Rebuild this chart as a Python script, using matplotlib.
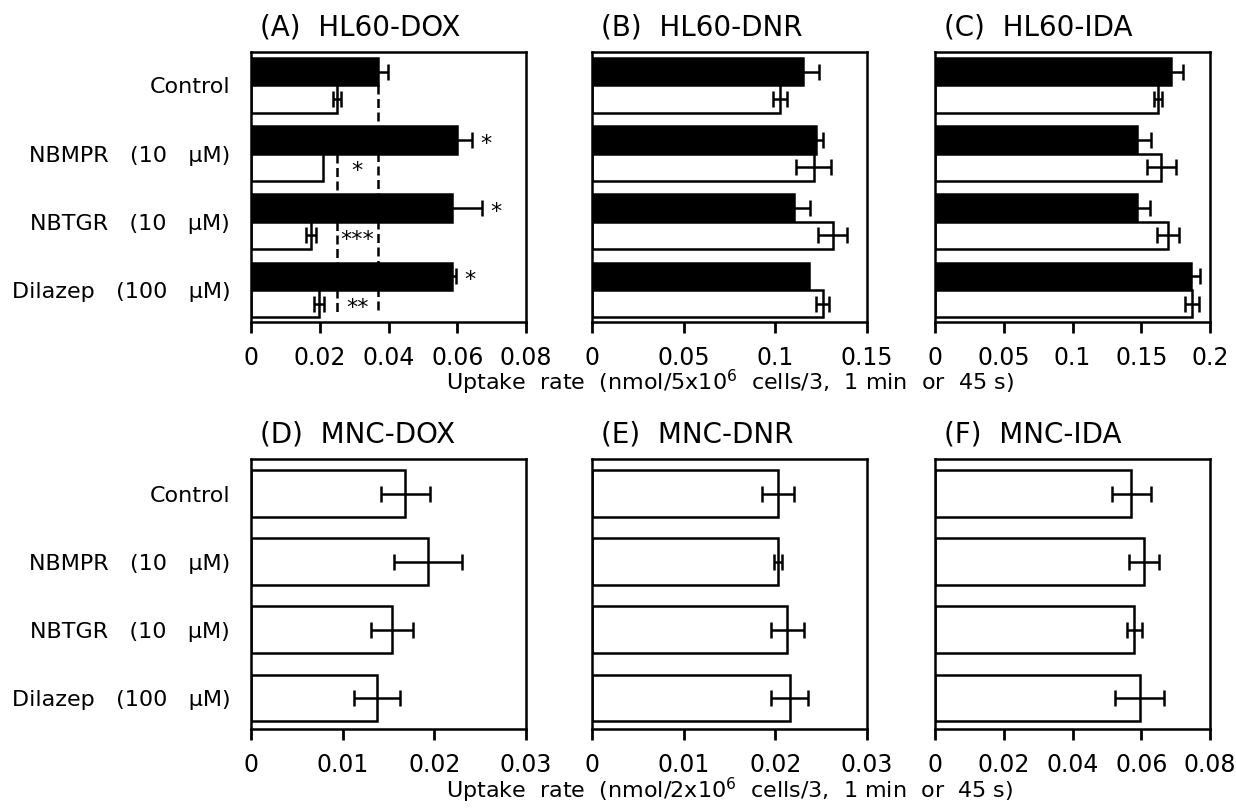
import numpy as np
import matplotlib
matplotlib.use('Agg')
import matplotlib.pyplot as plt
from matplotlib.ticker import FuncFormatter

plt.rcParams['font.family'] = ['DejaVu Sans']

# treatment groups, top to bottom
treatments = ['Control', 'NBMPR   (10   µM)', 'NBTGR   (10   µM)', 'Dilazep   (100   µM)']

# HL60 panels: filled bars (upper) and open bars (lower) of each group
dox_filled = [0.0369, 0.0598, 0.0584, 0.0584]
dox_filled_err = [0.0030, 0.0046, 0.0089, 0.0012]
dox_open = [0.0249, 0.0210, 0.0175, 0.0197]
dox_open_err = [0.0012, 0.0, 0.0015, 0.0015]
dox_sig_filled = ['', '*', '*', '*']
dox_sig_open = ['', '*', '***', '**']

dnr_filled = [0.1150, 0.1221, 0.1099, 0.1181]
dnr_filled_err = [0.0086, 0.0040, 0.0090, 0.0]
dnr_open = [0.1026, 0.1208, 0.1312, 0.1258]
dnr_open_err = [0.0040, 0.0095, 0.0080, 0.0035]

ida_filled = [0.1715, 0.1471, 0.1471, 0.1860]
ida_filled_err = [0.0085, 0.0100, 0.0090, 0.0066]
ida_open = [0.1622, 0.1646, 0.1695, 0.1870]
ida_open_err = [0.0030, 0.0103, 0.0080, 0.0050]

# MNC panels: one open bar per group
mnc_dox = [0.01684, 0.01927, 0.01535, 0.01375]
mnc_dox_err = [0.0027, 0.0037, 0.0023, 0.0025]
mnc_dnr = [0.02028, 0.02028, 0.02130, 0.02155]
mnc_dnr_err = [0.0017, 0.00045, 0.0018, 0.0020]
mnc_ida = [0.0571, 0.0608, 0.0580, 0.0595]
mnc_ida_err = [0.0057, 0.0044, 0.0021, 0.0072]

xlabel_top = 'Uptake  rate  (nmol/5x10$^6$  cells/3,  1 min  or  45 s)'
xlabel_bottom = 'Uptake  rate  (nmol/2x10$^6$  cells/3,  1 min  or  45 s)'

LW = 1.8
CAP = 5.5


def errbars(ax, vals, errs, ypos):
    vals, errs, ypos = np.asarray(vals), np.asarray(errs), np.asarray(ypos)
    m = errs > 0
    ax.errorbar(vals[m], ypos[m], xerr=errs[m], fmt='none', ecolor='black',
                elinewidth=LW, capsize=CAP, capthick=LW, zorder=4)


def style_axes(ax, title, xmax, step, labels):
    ax.set_xlim(0, xmax)
    ax.set_xticks(np.arange(0, xmax + step / 2, step))
    ax.xaxis.set_major_formatter(FuncFormatter(lambda v, p: f'{v:g}'))
    ax.tick_params(axis='x', direction='out', length=8, width=2, pad=9, labelsize=17)
    ax.tick_params(axis='y', length=0, pad=15, labelsize=16)
    if not labels:
        ax.set_yticklabels([])
    for s in ax.spines.values():
        s.set_linewidth(LW)
    ax.annotate(title, xy=(0, 1), xycoords='axes fraction', xytext=(6.5, 18),
                textcoords='offset points', ha='left', va='center', fontsize=20)


def hl60_panel(ax, title, xmax, step, filled, ferr, opened, oerr, labels=False):
    y = np.arange(len(treatments))
    ax.barh(y - 0.2, filled, height=0.4, color='black', edgecolor='black',
            linewidth=LW, zorder=2)
    ax.barh(y + 0.2, opened, height=0.4, color='white', edgecolor='black',
            linewidth=LW, zorder=2)
    errbars(ax, filled, ferr, y - 0.2)
    errbars(ax, opened, oerr, y + 0.2)
    ax.set_yticks(y)
    ax.set_yticklabels(treatments)
    ax.set_ylim(3.47, -0.49)
    style_axes(ax, title, xmax, step, labels)


def mnc_panel(ax, title, xmax, step, vals, errs, labels=False):
    y = np.arange(len(treatments))
    ax.barh(y, vals, height=0.68, color='white', edgecolor='black',
            linewidth=LW, zorder=2)
    errbars(ax, vals, errs, y)
    ax.set_yticks(y)
    ax.set_yticklabels(treatments)
    ax.set_ylim(3.46, -0.507)
    style_axes(ax, title, xmax, step, labels)


fig = plt.figure(figsize=(12.36, 8.09), dpi=100)
lefts = [0.2031, 0.479, 0.7565]
w, h = 0.2225, 0.3337
top_axes = [fig.add_axes([l, 0.602, w, h]) for l in lefts]
bot_axes = [fig.add_axes([l, 0.0989, w, h]) for l in lefts]

hl60_panel(top_axes[0], '(A)  HL60-DOX', 0.08, 0.02,
           dox_filled, dox_filled_err, dox_open, dox_open_err, labels=True)
hl60_panel(top_axes[1], '(B)  HL60-DNR', 0.15, 0.05,
           dnr_filled, dnr_filled_err, dnr_open, dnr_open_err)
hl60_panel(top_axes[2], '(C)  HL60-IDA', 0.2, 0.05,
           ida_filled, ida_filled_err, ida_open, ida_open_err)

# dashed reference lines at the control values in panel A, plus significance marks
axA = top_axes[0]
axA.vlines(dox_filled[0], 0.0, 3.32, colors='black', linewidth=LW,
           linestyles=(0, (3.6, 1.8)), zorder=1)
axA.vlines(dox_open[0], 1.0, 3.32, colors='black', linewidth=LW,
           linestyles=(0, (3.6, 1.8)), zorder=1)
mid = (dox_filled[0] + dox_open[0]) / 2
for i in range(len(treatments)):
    if dox_sig_filled[i]:
        axA.annotate(dox_sig_filled[i], xy=(dox_filled[i] + dox_filled_err[i], i - 0.2),
                     xytext=(10, -3), textcoords='offset points',
                     ha='center', va='center', fontsize=16, zorder=5)
    if dox_sig_open[i]:
        axA.annotate(dox_sig_open[i], xy=(mid, i + 0.2), xytext=(0, -3),
                     textcoords='offset points', ha='center', va='center',
                     fontsize=16, zorder=5)

mnc_panel(bot_axes[0], '(D)  MNC-DOX', 0.03, 0.01, mnc_dox, mnc_dox_err, labels=True)
mnc_panel(bot_axes[1], '(E)  MNC-DNR', 0.03, 0.01, mnc_dnr, mnc_dnr_err)
mnc_panel(bot_axes[2], '(F)  MNC-IDA', 0.08, 0.02, mnc_ida, mnc_ida_err)

pos = top_axes[1].get_position()
fig.text(pos.x0 + pos.width / 2, 1 - 382 / 809, xlabel_top, ha='center', va='center', fontsize=16)
pos = bot_axes[1].get_position()
fig.text(pos.x0 + pos.width / 2, 1 - 790 / 809, xlabel_bottom, ha='center', va='center', fontsize=16)

fig.savefig('out.png', dpi=100)
